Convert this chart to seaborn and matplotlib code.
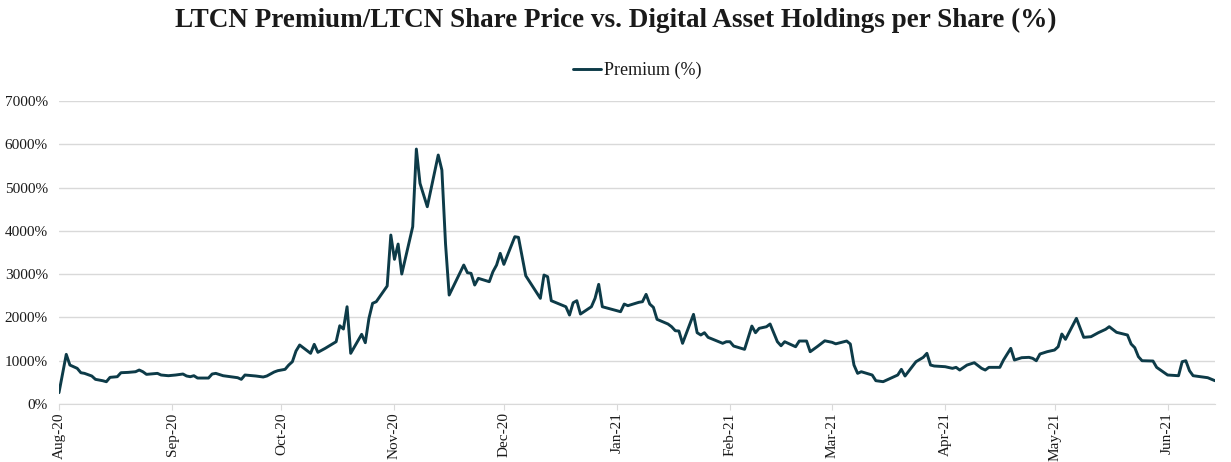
import pandas as pd
import seaborn as sns
import matplotlib.pyplot as plt
import matplotlib.dates as mdates
from matplotlib.ticker import FuncFormatter

# premium readings taken off the chart (date, premium in %)
dates = [
    "2020-08-01", "2020-08-03", "2020-08-04", "2020-08-06", "2020-08-07", "2020-08-08",
    "2020-08-10", "2020-08-11", "2020-08-13", "2020-08-14", "2020-08-15", "2020-08-17",
    "2020-08-18", "2020-08-20", "2020-08-22", "2020-08-23", "2020-08-24", "2020-08-25",
    "2020-08-28", "2020-08-29", "2020-08-31", "2020-09-02", "2020-09-04", "2020-09-05",
    "2020-09-06", "2020-09-07", "2020-09-08", "2020-09-11", "2020-09-12", "2020-09-13",
    "2020-09-15", "2020-09-17", "2020-09-19", "2020-09-20", "2020-09-21", "2020-09-24",
    "2020-09-26", "2020-09-27", "2020-09-29", "2020-09-30", "2020-10-02", "2020-10-03",
    "2020-10-04", "2020-10-05", "2020-10-06", "2020-10-09", "2020-10-10", "2020-10-11",
    "2020-10-13", "2020-10-16", "2020-10-17", "2020-10-18", "2020-10-19", "2020-10-20",
    "2020-10-23", "2020-10-24", "2020-10-25", "2020-10-26", "2020-10-27", "2020-10-30",
    "2020-10-31", "2020-11-01", "2020-11-02", "2020-11-03", "2020-11-06", "2020-11-07",
    "2020-11-08", "2020-11-10", "2020-11-13", "2020-11-14", "2020-11-15", "2020-11-16",
    "2020-11-20", "2020-11-21", "2020-11-22", "2020-11-23", "2020-11-24", "2020-11-27",
    "2020-11-28", "2020-11-29", "2020-11-30", "2020-12-01", "2020-12-04", "2020-12-05",
    "2020-12-07", "2020-12-11", "2020-12-12", "2020-12-13", "2020-12-14", "2020-12-18",
    "2020-12-19", "2020-12-20", "2020-12-21", "2020-12-22", "2020-12-25", "2020-12-26",
    "2020-12-27", "2020-12-28", "2021-01-02", "2021-01-03", "2021-01-04", "2021-01-07",
    "2021-01-08", "2021-01-09", "2021-01-10", "2021-01-11", "2021-01-12", "2021-01-15",
    "2021-01-16", "2021-01-17", "2021-01-18", "2021-01-19", "2021-01-22", "2021-01-23",
    "2021-01-24", "2021-01-25", "2021-01-26", "2021-01-30", "2021-01-31", "2021-02-01",
    "2021-02-02", "2021-02-05", "2021-02-07", "2021-02-08", "2021-02-09", "2021-02-11",
    "2021-02-12", "2021-02-14", "2021-02-15", "2021-02-16", "2021-02-19", "2021-02-20",
    "2021-02-22", "2021-02-23", "2021-02-25", "2021-02-27", "2021-03-01", "2021-03-02",
    "2021-03-05", "2021-03-06", "2021-03-07", "2021-03-08", "2021-03-09", "2021-03-12",
    "2021-03-13", "2021-03-15", "2021-03-17", "2021-03-19", "2021-03-20", "2021-03-21",
    "2021-03-24", "2021-03-26", "2021-03-27", "2021-03-28", "2021-03-29", "2021-04-01",
    "2021-04-03", "2021-04-04", "2021-04-05", "2021-04-07", "2021-04-09", "2021-04-11",
    "2021-04-12", "2021-04-13", "2021-04-16", "2021-04-17", "2021-04-19", "2021-04-20",
    "2021-04-22", "2021-04-24", "2021-04-25", "2021-04-26", "2021-04-27", "2021-04-29",
    "2021-05-01", "2021-05-02", "2021-05-03", "2021-05-04", "2021-05-07", "2021-05-09",
    "2021-05-11", "2021-05-13", "2021-05-15", "2021-05-16", "2021-05-18", "2021-05-21",
    "2021-05-22", "2021-05-23", "2021-05-24", "2021-05-25", "2021-05-28", "2021-05-29",
    "2021-06-01", "2021-06-04", "2021-06-05", "2021-06-06", "2021-06-07", "2021-06-08",
    "2021-06-12", "2021-06-14",
]
premium = [
    261, 1147, 900, 824, 723, 708,
    647, 570, 538, 515, 616, 631,
    723, 731, 746, 785, 746, 685,
    708, 670, 654, 670, 693, 647,
    631, 654, 600, 600, 693, 708,
    654, 631, 608, 570, 670, 647,
    624, 647, 739, 770, 801, 900,
    977, 1224, 1363, 1171, 1379, 1194,
    1286, 1439, 1808, 1732, 2247, 1171,
    1610, 1416, 1979, 2326, 2363, 2725,
    3903, 3342, 3695, 3002, 4095, 5889,
    5097, 4557, 5751, 5404, 3700, 2517,
    3210, 3033, 3018, 2748, 2903, 2825,
    3056, 3210, 3480, 3226, 3864, 3850,
    2963, 2441, 2979, 2940, 2386, 2247,
    2055, 2340, 2386, 2078, 2247, 2441,
    2764, 2247, 2132, 2309, 2271, 2349,
    2363, 2533, 2309, 2233, 1956, 1848,
    1785, 1693, 1686, 1402, 2071, 1647,
    1594, 1647, 1540, 1402, 1439, 1439,
    1339, 1263, 1801, 1647, 1748, 1785,
    1848, 1439, 1346, 1439, 1323, 1455,
    1455, 1208, 1330, 1460, 1425, 1390,
    1455, 1386, 901, 708, 746, 670,
    539, 516, 593, 670, 801, 647,
    977, 1078, 1171, 900, 878, 862,
    824, 847, 785, 900, 954, 824,
    785, 847, 847, 1016, 1286, 1016,
    1070, 1078, 1055, 1000, 1155, 1209,
    1247, 1324, 1617, 1494, 1979, 1540,
    1555, 1647, 1725, 1786, 1656, 1594,
    1386, 1301, 1093, 1000, 993, 847,
    670, 654, 977, 1000, 770, 654,
    608, 538,
]
y_ticks = [0, 1000, 2000, 3000, 4000, 5000, 6000, 7000]

df = pd.DataFrame({"date": pd.to_datetime(dates), "premium": premium})

sns.set_style("white")
plt.rcParams['font.family'] = ['Liberation Serif', 'DejaVu Serif']
plt.rcParams['text.color'] = '#1A1A1A'
plt.rcParams['xtick.color'] = '#1A1A1A'
plt.rcParams['ytick.color'] = '#1A1A1A'

fig = plt.figure(figsize=(12.31, 4.62), dpi=100)
ax = fig.add_axes([0.0479, 0.1255, 0.9391, 0.656])

sns.lineplot(data=df, x="date", y="premium", color="#0D3B48", linewidth=2.1,
             label="Premium (%)", ax=ax)

ax.set_xlim(pd.Timestamp("2020-08-01"), pd.Timestamp("2021-06-14"))
ax.set_ylim(0, 7000)
ax.set_yticks(y_ticks)
ax.yaxis.set_major_formatter(FuncFormatter(lambda v, p: f"{int(v)}%"))
ax.xaxis.set_major_locator(mdates.MonthLocator())
ax.xaxis.set_major_formatter(mdates.DateFormatter("%b-%y"))
plt.setp(ax.get_xticklabels(), rotation=90)

ax.grid(axis="y", color="#D9D9D9", linewidth=1.0)
ax.set_axisbelow(True)
for side in ["left", "right", "top"]:
    ax.spines[side].set_visible(False)
ax.spines["bottom"].set_color("#D9D9D9")
ax.tick_params(axis="x", length=4, color="#D9D9D9", labelsize=11, pad=2, bottom=True)
ax.tick_params(axis="y", length=0, labelsize=11, pad=8)
ax.set_xlabel("")
ax.set_ylabel("")

ax.legend(loc="center", bbox_to_anchor=(0.5, 1.1), frameon=False, fontsize=13,
          handlelength=1.55, handletextpad=0.15)

fig.text(0.5, 0.955, "LTCN Premium/LTCN Share Price vs. Digital Asset Holdings per Share (%)",
         ha="center", va="center", fontsize=19.5, fontweight="bold")

fig.savefig("out.png", dpi=100)
